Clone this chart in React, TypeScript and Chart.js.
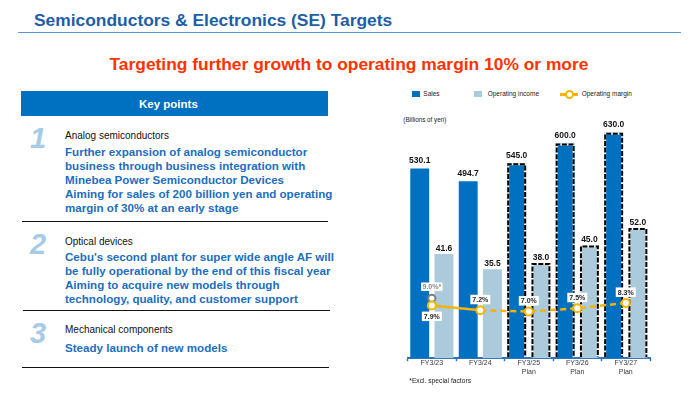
import React, { useEffect, useRef } from "react";
import { Chart, registerables } from "chart.js";

Chart.register(...registerables);

const FONT = "'Liberation Sans', Arial, Helvetica, sans-serif";

// ---- data ----
const categories = [["FY3/23"], ["FY3/24"], ["FY3/25", "Plan"], ["FY3/26", "Plan"], ["FY3/27", "Plan"]];
const salesValues = [530.1, 494.7, 545.0, 600.0, 630.0];
const operatingIncomeValues = [41.6, 35.5, 38.0, 45.0, 52.0];
const operatingMarginValues = [7.9, 7.2, 7.0, 7.5, 8.3];
const marginExclSpecialValues = [9.0, null, null, null, null];
const isPlan = [false, false, true, true, true];
const seriesNames = ["Sales", "Operating income", "Operating margin"];

const SALES_COLOR = "#0070c0";
const OI_COLOR = "#abcadc";
const MARGIN_COLOR = "#f5b400";

const planBorderPlugin = {
  id: "planBorder",
  afterDatasetDraw(chart: any, args: any) {
    const i = args.index;
    if (i !== 0 && i !== 1) return;
    const ctx = chart.ctx;
    args.meta.data.forEach((el: any, j: number) => {
      if (!isPlan[j]) return;
      const { x, y, base, width } = el.getProps(["x", "y", "base", "width"], true);
      const l = x - width / 2 + 1;
      const r = x + width / 2 - 1;
      const t = y + 1;
      const b = base - 1;
      ctx.save();
      ctx.lineWidth = 2;
      ctx.beginPath();
      ctx.moveTo(l, b);
      ctx.lineTo(l, t);
      ctx.lineTo(r, t);
      ctx.lineTo(r, b);
      ctx.strokeStyle = "#ffffff";
      ctx.stroke();
      ctx.setLineDash([5, 1.6]);
      ctx.strokeStyle = "#000000";
      ctx.stroke();
      ctx.restore();
    });
  },
};

const labelsPlugin = {
  id: "valueLabels",
  afterDatasetsDraw(chart: any) {
    const ctx = chart.ctx;
    ctx.save();
    ctx.textAlign = "center";
    ctx.textBaseline = "alphabetic";
    ctx.font = `bold 8.5px ${FONT}`;
    ctx.fillStyle = "#141414";
    chart.getDatasetMeta(0).data.forEach((el: any, j: number) => {
      ctx.fillText(salesValues[j].toFixed(1), el.x, el.y - 5.5);
    });
    chart.getDatasetMeta(1).data.forEach((el: any, j: number) => {
      ctx.fillText(operatingIncomeValues[j].toFixed(1), el.x, el.y - 3.4);
    });

    ctx.font = `bold 7px ${FONT}`;
    ctx.textBaseline = "middle";
    chart.getDatasetMeta(2).data.forEach((el: any, j: number) => {
      const below = j === 0;
      const w = 20;
      const h = 9.5;
      const top = below ? el.y + 6 : el.y - 6 - h;
      ctx.fillStyle = "#ffffff";
      ctx.fillRect(el.x - w / 2, top, w, h);
      ctx.fillStyle = "#262626";
      ctx.fillText(operatingMarginValues[j].toFixed(1) + "%", el.x, top + h / 2 + 0.5);
    });
    chart.getDatasetMeta(3).data.forEach((el: any, j: number) => {
      const v = marginExclSpecialValues[j];
      if (v == null) return;
      const w = 21.5;
      const h = 8.5;
      const top = el.y - 7.3 - h;
      ctx.fillStyle = "#ffffff";
      ctx.fillRect(el.x - w / 2, top, w, h);
      ctx.fillStyle = "#8a8a8a";
      ctx.fillText(v.toFixed(1) + "%*", el.x, top + h / 2 + 0.5);
    });
    ctx.restore();
  },
};

function SEChart() {
  const ref = useRef<HTMLCanvasElement | null>(null);
  useEffect(() => {
    if (!ref.current) return;
    const chart = new Chart(ref.current, {
      type: "bar",
      data: {
        labels: categories as any,
        datasets: [
          {
            type: "bar",
            label: seriesNames[0],
            data: salesValues,
            backgroundColor: SALES_COLOR,
            yAxisID: "y",
            order: 1,
            categoryPercentage: 1.0,
            barPercentage: 0.78,
          } as any,
          {
            type: "bar",
            label: seriesNames[1],
            data: operatingIncomeValues,
            backgroundColor: OI_COLOR,
            yAxisID: "y1",
            order: 1,
            categoryPercentage: 1.0,
            barPercentage: 0.78,
          } as any,
          {
            type: "line",
            label: seriesNames[2],
            data: operatingMarginValues,
            yAxisID: "y2",
            order: 0,
            borderColor: MARGIN_COLOR,
            borderWidth: 2.5,
            pointRadius: 4,
            pointBorderWidth: 2,
            pointBackgroundColor: "#ffffff",
            pointBorderColor: MARGIN_COLOR,
            tension: 0,
            segment: {
              borderDash: (c: any) => (c.p0DataIndex >= 1 ? [6, 4] : undefined),
            },
          } as any,
          {
            type: "line",
            label: seriesNames[2] + " (excl.)",
            data: marginExclSpecialValues,
            yAxisID: "y2",
            order: 0,
            showLine: false,
            pointRadius: 3.6,
            pointBorderWidth: 2,
            pointBackgroundColor: "#ffffff",
            pointBorderColor: "#7f7f7f",
          } as any,
        ],
      },
      options: {
        animation: false,
        responsive: false,
        maintainAspectRatio: false,
        layout: { padding: { left: 27.6, right: 30, top: 7.8, bottom: 20 } },
        plugins: {
          legend: { display: false },
          tooltip: { enabled: false },
        },
        scales: {
          x: {
            offset: true,
            grid: {
              display: true,
              offset: true,
              drawOnChartArea: false,
              drawTicks: true,
              tickLength: 3,
              tickColor: "#2f74c0",
              tickWidth: 1.5,
            },
            border: { display: true, color: "#2f74c0", width: 2 },
            ticks: {
              autoSkip: false,
              maxRotation: 0,
              padding: -2,
              color: "#3a3a3a",
              font: { family: FONT, size: 7, lineHeight: 1.2 },
            },
          },
          y: { display: false, min: 0, max: 700 },
          y1: { display: false, min: 0, max: 100 },
          y2: { display: false, min: 0, max: 37.6 },
        },
      } as any,
      plugins: [planBorderPlugin, labelsPlugin],
    });
    return () => chart.destroy();
  }, []);
  return <canvas ref={ref} width={300} height={294} style={{ position: "absolute", left: 380, top: 100 }} />;
}

const abs = (left: number, top: number, extra: any = {}) => ({
  position: "absolute" as const,
  left,
  top,
  whiteSpace: "nowrap" as const,
  ...extra,
});

const BODY_BLUE = "#1c6ec0";
const NUM_BLUE = "#a6cae8";

function Item(props: { num: string; numTop: number; head: string; headTop: number; lines: string[]; bodyTop: number }) {
  return (
    <>
      <div style={abs(30, props.numTop, { fontSize: 29, lineHeight: "29px", fontWeight: "bold", fontStyle: "italic", color: NUM_BLUE })}>
        {props.num}
      </div>
      <div style={abs(65, props.headTop, { fontSize: 10, lineHeight: "12px", color: "#111" })}>{props.head}</div>
      <div style={abs(65, props.bodyTop, { fontSize: 11.6, lineHeight: "14px", fontWeight: "bold", color: BODY_BLUE })}>
        {props.lines.map((l, i) => (
          <div key={i}>{l}</div>
        ))}
      </div>
    </>
  );
}

export default function App() {
  return (
    <div
      style={{
        position: "fixed",
        left: 0,
        top: 0,
        width: 700,
        height: 394,
        background: "#ffffff",
        overflow: "hidden",
        fontFamily: FONT,
      }}
    >
      <div style={abs(34, 10, { fontSize: 17.4, lineHeight: "20px", fontWeight: "bold", color: "#1e5ea8" })}>
        Semiconductors &amp; Electronics (SE) Targets
      </div>
      <div style={abs(18, 31.5, { width: 663, height: 1.5, background: "#5b95d0" })} />
      <div style={abs(109.5, 54, { fontSize: 17.4, lineHeight: "20px", fontWeight: "bold", color: "#ff3300" })}>
        Targeting further growth to operating margin 10% or more
      </div>

      <div style={abs(21, 91, { width: 307, height: 25, background: "#0070c0" })} />
      <div style={abs(139, 97.3, { fontSize: 11.5, lineHeight: "14px", fontWeight: "bold", color: "#ffffff" })}>Key points</div>

      <Item
        num="1"
        numTop={123.7}
        head="Analog semiconductors"
        headTop={129.8}
        bodyTop={144.7}
        lines={[
          "Further expansion of analog semiconductor",
          "business through business integration with",
          "Minebea Power Semiconductor Devices",
          "Aiming for sales of 200 billion yen and operating",
          "margin of 30% at an early stage",
        ]}
      />
      <div style={abs(22, 221, { width: 306, height: 1, background: "#111" })} />
      <Item
        num="2"
        numTop={229.5}
        head="Optical devices"
        headTop={236.2}
        bodyTop={249.7}
        lines={[
          "Cebu's second plant for super wide angle AF will",
          "be fully operational by the end of this fiscal year",
          "Aiming to acquire new models through",
          "technology, quality, and customer support",
        ]}
      />
      <div style={abs(23, 310, { width: 307, height: 1, background: "#111" })} />
      <Item
        num="3"
        numTop={318.8}
        head="Mechanical components"
        headTop={323.8}
        bodyTop={340.7}
        lines={["Steady launch of new models"]}
      />
      <div style={abs(22, 367, { width: 307, height: 1, background: "#111" })} />

      {/* legend */}
      <div style={abs(412.3, 90.5, { width: 7.7, height: 6.5, background: SALES_COLOR })} />
      <div style={abs(423.3, 88.5, { fontSize: 6.5, lineHeight: "10px", color: "#222" })}>{seriesNames[0]}</div>
      <div style={abs(474.3, 90.5, { width: 7.5, height: 6.5, background: OI_COLOR })} />
      <div style={abs(487.7, 88.5, { fontSize: 6.5, lineHeight: "10px", color: "#222" })}>{seriesNames[1]}</div>
      <div style={abs(560, 92.5, { width: 18, height: 3, background: MARGIN_COLOR })} />
      <div
        style={abs(564.5, 89.5, {
          width: 5,
          height: 5,
          borderRadius: "50%",
          border: `2px solid ${MARGIN_COLOR}`,
          background: "#ffffff",
        })}
      />
      <div style={abs(581.7, 88.5, { fontSize: 6.5, lineHeight: "10px", color: "#222" })}>{seriesNames[2]}</div>

      <div style={abs(403.3, 114.5, { fontSize: 6.3, lineHeight: "9px", color: "#222" })}>(Billions of yen)</div>

      <SEChart />

      <div style={abs(409.3, 376, { fontSize: 6.7, lineHeight: "10px", color: "#222" })}>*Excl. special factors</div>
    </div>
  );
}
